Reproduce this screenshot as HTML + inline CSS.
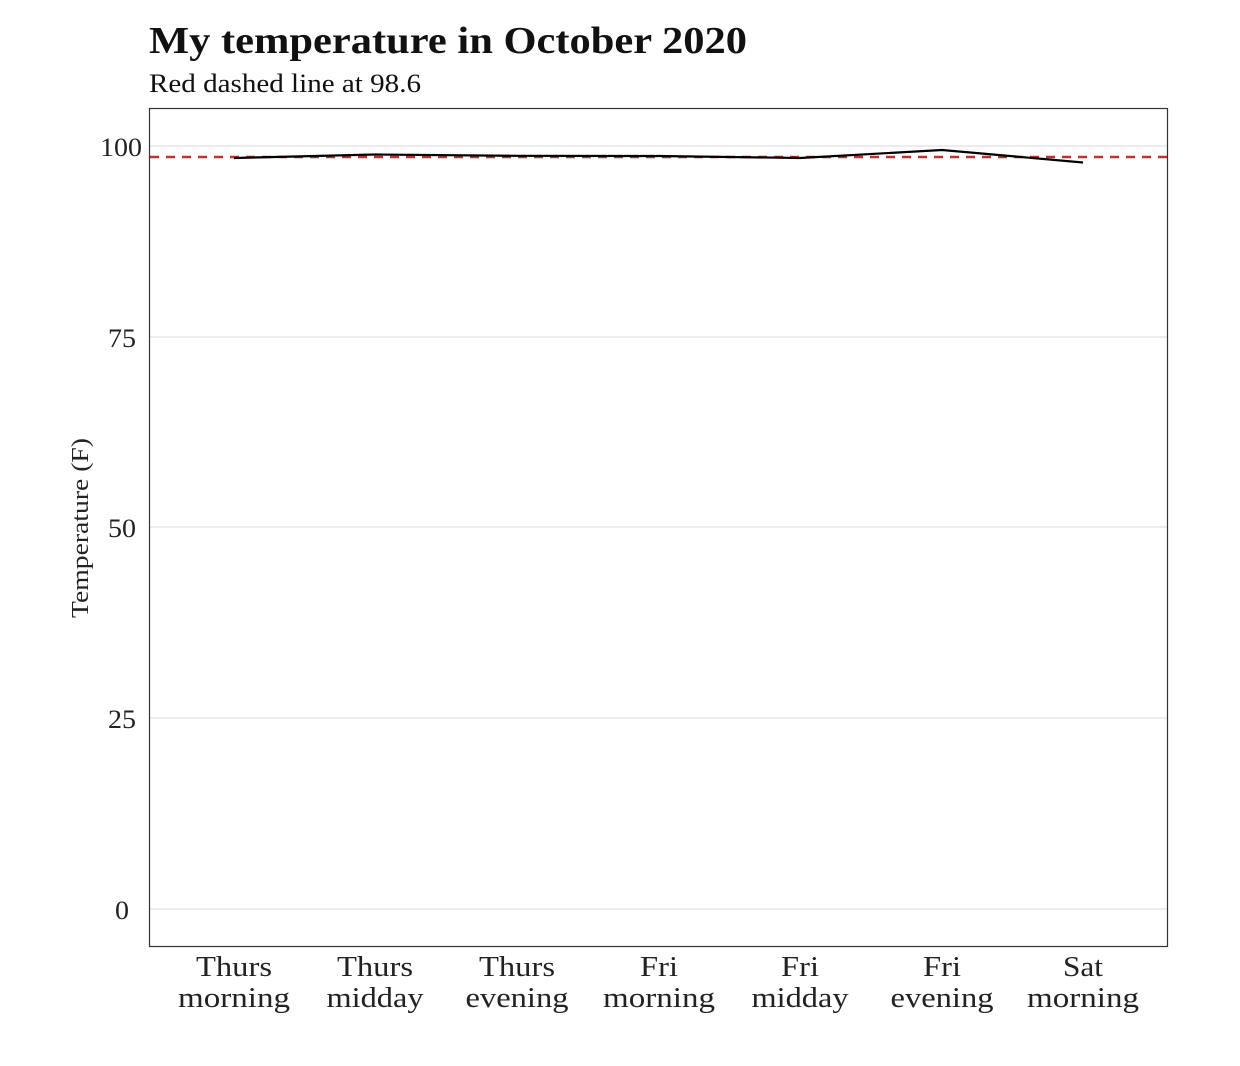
<!DOCTYPE html>
<html><head><meta charset="utf-8"><style>
html,body{margin:0;padding:0;background:#fff;}
svg{display:block;font-family:"Liberation Serif",serif;}
</style></head><body>
<svg width="1240" height="1066" viewBox="0 0 1240 1066" xmlns="http://www.w3.org/2000/svg">
<text x="149" y="53" font-size="38" font-weight="bold" fill="#111" textLength="598" lengthAdjust="spacingAndGlyphs">My temperature in October 2020</text>
<text x="149" y="92" font-size="26" fill="#111" textLength="272" lengthAdjust="spacingAndGlyphs">Red dashed line at 98.6</text>
<g stroke="#e6e6e6" stroke-width="1.5">
<line x1="150" x2="1167" y1="146" y2="146"/>
<line x1="150" x2="1167" y1="337" y2="337"/>
<line x1="150" x2="1167" y1="527" y2="527"/>
<line x1="150" x2="1167" y1="718" y2="718"/>
<line x1="150" x2="1167" y1="909" y2="909"/>
</g>
<line x1="150" x2="1167" y1="157" y2="157" stroke="#b5382b" stroke-width="2.5" stroke-dasharray="9,7"/>
<polyline fill="none" stroke="#000" stroke-width="2.2" points="234,158 375,154.5 517,155.8 659,156 800,158 942,150 1083,162.5"/>
<rect x="149.5" y="108.5" width="1018" height="838" fill="none" stroke="#333" stroke-width="1.2"/>
<g font-size="26" fill="#222" text-anchor="end">
<text x="142" y="156" textLength="42" lengthAdjust="spacingAndGlyphs">100</text>
<text x="136" y="347" textLength="28" lengthAdjust="spacingAndGlyphs">75</text>
<text x="136" y="537" textLength="28" lengthAdjust="spacingAndGlyphs">50</text>
<text x="136" y="728" textLength="28" lengthAdjust="spacingAndGlyphs">25</text>
<text x="129" y="919" textLength="14" lengthAdjust="spacingAndGlyphs">0</text>
</g>
<text transform="translate(88,528) rotate(-90)" font-size="24" text-anchor="middle" fill="#222" textLength="180" lengthAdjust="spacingAndGlyphs">Temperature (F)</text>
<g font-size="28" fill="#222" text-anchor="middle">
<text x="234" y="976" textLength="76" lengthAdjust="spacingAndGlyphs">Thurs</text><text x="234" y="1007" textLength="112" lengthAdjust="spacingAndGlyphs">morning</text>
<text x="375" y="976" textLength="76" lengthAdjust="spacingAndGlyphs">Thurs</text><text x="375" y="1007" textLength="97" lengthAdjust="spacingAndGlyphs">midday</text>
<text x="517" y="976" textLength="76" lengthAdjust="spacingAndGlyphs">Thurs</text><text x="517" y="1007" textLength="103" lengthAdjust="spacingAndGlyphs">evening</text>
<text x="659" y="976" textLength="38" lengthAdjust="spacingAndGlyphs">Fri</text><text x="659" y="1007" textLength="112" lengthAdjust="spacingAndGlyphs">morning</text>
<text x="800" y="976" textLength="38" lengthAdjust="spacingAndGlyphs">Fri</text><text x="800" y="1007" textLength="97" lengthAdjust="spacingAndGlyphs">midday</text>
<text x="942" y="976" textLength="38" lengthAdjust="spacingAndGlyphs">Fri</text><text x="942" y="1007" textLength="103" lengthAdjust="spacingAndGlyphs">evening</text>
<text x="1083" y="976" textLength="40" lengthAdjust="spacingAndGlyphs">Sat</text><text x="1083" y="1007" textLength="112" lengthAdjust="spacingAndGlyphs">morning</text>
</g>
</svg>
</body></html>
